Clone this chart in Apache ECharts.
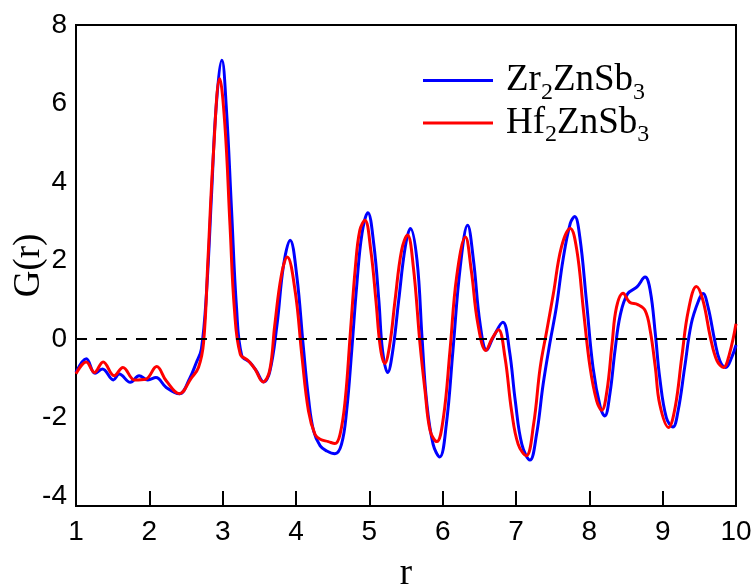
<!DOCTYPE html>
<html>
<head>
<meta charset="utf-8">
<script src="https://cdn.jsdelivr.net/npm/echarts@6/dist/echarts.min.js"></script>
<style>html,body{margin:0;padding:0;background:#fff}#c{width:755px;height:587px}</style>
</head>
<body>
<div id="c"></div>
<script>
// Zr2ZnSb3 (blue)
var zrR = [1.00,1.14,1.26,1.36,1.51,1.59,1.74,1.86,1.98,2.09,2.23,2.41,2.55,2.64,2.71,2.78,2.85,2.91,2.99,3.05,3.12,3.19,3.26,3.37,3.46,3.56,3.64,3.74,3.83,3.92,4.01,4.10,4.17,4.24,4.33,4.42,4.53,4.62,4.69,4.76,4.83,4.90,4.98,5.06,5.13,5.18,5.25,5.32,5.40,5.49,5.56,5.65,5.72,5.78,5.87,5.96,6.05,6.14,6.24,6.34,6.42,6.51,6.60,6.69,6.82,6.91,6.99,7.08,7.19,7.28,7.37,7.46,7.55,7.64,7.74,7.80,7.87,7.96,8.05,8.15,8.21,8.28,8.35,8.42,8.52,8.65,8.76,8.83,8.90,8.96,9.05,9.14,9.21,9.30,9.39,9.49,9.55,9.62,9.71,9.78,9.86,9.94,10.00];
var zrG = [-0.85,-0.50,-0.87,-0.76,-1.04,-0.89,-1.10,-0.93,-1.04,-0.98,-1.23,-1.39,-1.00,-0.60,-0.25,1.20,3.75,5.89,7.10,5.89,3.33,0.77,-0.42,-0.59,-0.81,-1.09,-0.85,0.35,1.88,2.52,1.62,-0.20,-1.50,-2.34,-2.72,-2.85,-2.92,-2.68,-1.83,-0.29,1.41,2.69,3.22,2.43,0.98,-0.29,-0.85,-0.29,0.98,2.35,2.82,2.01,0.00,-1.57,-2.68,-3.00,-2.17,-0.29,1.84,2.90,2.01,0.39,-0.28,0.05,0.43,-0.29,-1.57,-2.68,-3.08,-2.43,-1.15,-0.12,0.81,2.01,2.95,3.12,2.60,0.98,-0.72,-1.74,-1.96,-1.40,-0.29,0.60,1.15,1.33,1.58,1.24,0.13,-0.98,-2.00,-2.24,-1.83,-0.72,0.39,0.98,1.16,0.81,-0.04,-0.55,-0.72,-0.47,-0.15];
// Hf2ZnSb3 (red)
var hfR = [1.00,1.14,1.25,1.37,1.52,1.64,1.80,1.95,2.10,2.23,2.41,2.57,2.67,2.74,2.80,2.87,2.96,3.03,3.10,3.16,3.24,3.35,3.44,3.55,3.64,3.71,3.80,3.88,3.99,4.08,4.17,4.26,4.33,4.44,4.53,4.60,4.67,4.74,4.81,4.87,4.94,5.02,5.09,5.15,5.21,5.28,5.35,5.44,5.52,5.60,5.69,5.76,5.83,5.92,6.01,6.10,6.19,6.31,6.39,6.48,6.59,6.67,6.76,6.85,6.94,7.03,7.14,7.24,7.33,7.42,7.51,7.62,7.74,7.83,7.92,8.01,8.10,8.17,8.24,8.31,8.37,8.46,8.55,8.66,8.76,8.83,8.90,8.96,9.08,9.17,9.26,9.35,9.46,9.55,9.65,9.74,9.83,9.91,10.00];
var hfG = [-0.88,-0.58,-0.85,-0.58,-0.93,-0.72,-1.04,-1.02,-0.70,-1.06,-1.39,-1.00,-0.72,-0.08,2.05,4.61,6.63,5.46,2.90,0.77,-0.38,-0.55,-0.76,-1.09,-0.81,0.35,1.62,2.09,1.20,-0.42,-1.83,-2.43,-2.55,-2.61,-2.66,-2.43,-1.57,0.13,1.84,2.77,3.03,2.26,0.98,-0.21,-0.62,-0.12,0.98,2.26,2.65,1.84,-0.10,-1.32,-2.34,-2.61,-2.00,-0.29,1.58,2.60,1.75,0.39,-0.29,0.00,0.24,-0.47,-1.83,-2.68,-2.97,-2.17,-0.72,0.22,1.16,2.35,2.82,2.26,0.73,-0.72,-1.57,-1.81,-1.32,-0.12,0.81,1.17,0.94,0.88,0.73,0.22,-0.72,-1.66,-2.25,-1.74,-0.47,0.73,1.34,0.98,0.05,-0.55,-0.72,-0.38,0.39];
var yTickValues = [-4,-2,0,2,4,6,8];

function zip(a,b){var o=[];for(var i=0;i<a.length;i++)o.push([a[i],b[i]]);return o;}

var chart = echarts.init(document.getElementById('c'), null, {renderer:'canvas'});
var richStyle = {
  a:{fontFamily:'Liberation Serif',fontSize:37,color:'#000',lineHeight:48,verticalAlign:'middle'},
  s:{fontFamily:'Liberation Serif',fontSize:24,color:'#000',lineHeight:24,verticalAlign:'bottom'}
};
chart.setOption({
  animation:false,
  backgroundColor:'#fff',
  grid:{left:76,right:19,top:25,bottom:81,show:true,borderColor:'#000',borderWidth:2,backgroundColor:'transparent',
        containLabel:false,outerBoundsMode:'none'},
  legend:{
    data:['Zr2ZnSb3','Hf2ZnSb3'],
    orient:'vertical',left:418,top:57,itemWidth:70,itemHeight:3,itemGap:0,icon:'rect',
    formatter:function(n){return n==='Zr2ZnSb3'?'{a|Zr}{s|2}{a|ZnSb}{s|3}':'{a|Hf}{s|2}{a|ZnSb}{s|3}';},
    textStyle:{rich:richStyle,padding:[0,0,0,8]}
  },
  xAxis:{
    type:'value',min:1,max:10,interval:1,
    name:'r',nameLocation:'middle',nameGap:50,nameMoveOverlap:false,
    nameTextStyle:{fontFamily:'Liberation Serif',fontSize:37,color:'#000'},
    axisLine:{onZero:false,lineStyle:{color:'#000',width:2}},
    axisTick:{show:true,inside:true,length:15,lineStyle:{color:'#000',width:2}},
    axisLabel:{fontFamily:'Liberation Sans',fontSize:28,color:'#000',margin:12},
    splitLine:{show:false}
  },
  yAxis:{
    type:'value',min:-4.25,max:8,interval:0.25,
    name:'G(r)',nameLocation:'middle',nameGap:28,nameMoveOverlap:false,
    nameTextStyle:{fontFamily:'Liberation Serif',fontSize:37,color:'#000'},
    axisLine:{show:true,onZero:false,lineStyle:{color:'#000',width:2}},
    axisTick:{show:false},
    axisLabel:{fontFamily:'Liberation Sans',fontSize:28,color:'#000',margin:9,interval:0,
      formatter:function(v){var r=Math.round(v);return (Math.abs(v-r)<1e-6 && yTickValues.indexOf(r)>=0)?String(r):'';}},
    splitLine:{show:false}
  },
  series:[
    {name:'Zr2ZnSb3',type:'line',data:zip(zrR,zrG),smooth:0.4,symbol:'none',
     lineStyle:{color:'#0000ff',width:3},itemStyle:{color:'#0000ff'},z:3,
     markLine:{silent:true,symbol:'none',label:{show:false},
       lineStyle:{color:'#000',type:[11,9],width:2},data:[{yAxis:0}]}},
    {name:'Hf2ZnSb3',type:'line',data:zip(hfR,hfG),smooth:0.4,symbol:'none',
     lineStyle:{color:'#ff0000',width:3},itemStyle:{color:'#ff0000'},z:4}
  ]
});
</script>
</body>
</html>
